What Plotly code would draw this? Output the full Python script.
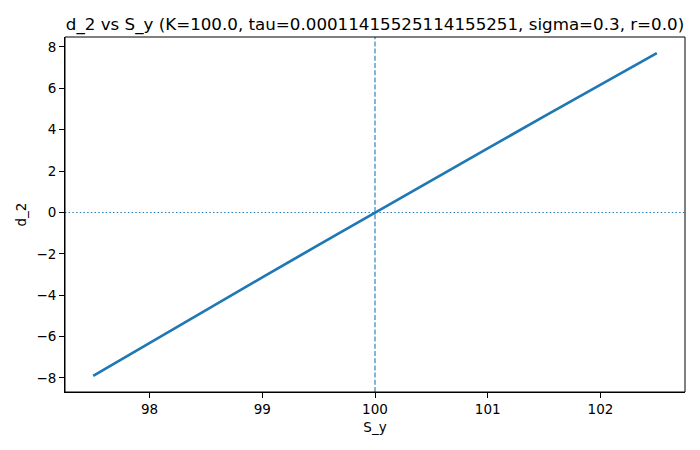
import plotly.graph_objects as go

K = 100.0
tau = 0.00011415525114155251
sigma = 0.3
r = 0.0

S_y = [97.5, 98.0, 98.5, 99.0, 99.5, 100.0, 100.5, 101.0, 101.5, 102.0, 102.5]
d_2 = [-7.90, -6.30, -4.72, -3.14, -1.57, 0.0, 1.55, 3.10, 4.64, 6.18, 7.70]

x_ticks = [98, 99, 100, 101, 102]
y_ticks = [-8, -6, -4, -2, 0, 2, 4, 6, 8]

blue = "#1f77b4"
font = "DejaVu Sans"

fig = go.Figure()
fig.add_trace(go.Scatter(x=S_y, y=d_2, mode="lines",
                         line=dict(color=blue, width=2.7), showlegend=False))
fig.add_hline(y=0, line=dict(color=blue, width=1.1, dash="1.4px,2.3px"))
fig.add_vline(x=K, line=dict(color=blue, width=1.1, dash="5px,2.2px"))
fig.add_shape(type="rect", xref="paper", yref="paper", x0=0, x1=1, y0=0, y1=1,
              line=dict(color="black", width=1), fillcolor="rgba(0,0,0,0)", layer="above")

title = f"d_2 vs S_y (K={K}, tau={tau}, sigma={sigma}, r={r})"

axis_common = dict(showgrid=False, zeroline=False, showline=True, linecolor="black",
                   linewidth=1, mirror=False, ticks="outside", ticklen=5, tickwidth=1,
                   tickcolor="black", automargin=False,
                   tickfont=dict(family=font, size=13.5, color="black"))

fig.update_layout(
    width=700, height=450,
    margin=dict(l=65, r=15, t=37, b=58, autoexpand=False),
    paper_bgcolor="white", plot_bgcolor="white",
    font=dict(family=font, color="black"),
    title=dict(text=title, x=0.5, xref="paper", xanchor="center",
               y=1 - 24 / 450, yanchor="middle", automargin=False,
               font=dict(family=font, size=16.7, color="black")),
    xaxis=dict(range=[97.25, 102.75], tickvals=x_ticks,
               title=dict(text="S_y", font=dict(family=font, size=13.5), standoff=6),
               **axis_common),
    yaxis=dict(range=[-8.68, 8.48], tickvals=y_ticks,
               title=dict(text="d_2", font=dict(family=font, size=13.5), standoff=6),
               **axis_common),
)

fig.write_html("out.html", config={"displayModeBar": False},
               post_script="document.body.style.margin='0';")
